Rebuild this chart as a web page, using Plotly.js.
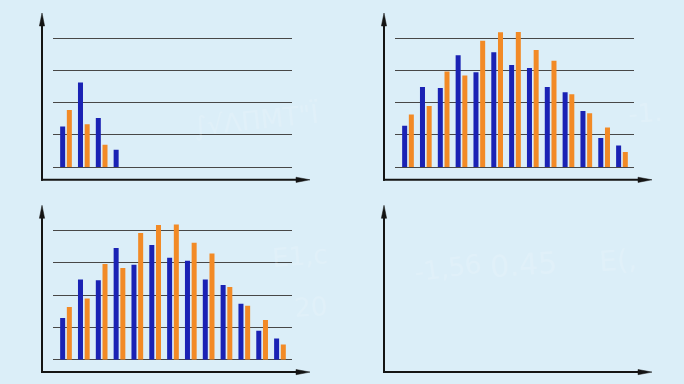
<!DOCTYPE html>
<html>
<head>
<meta charset="utf-8">
<script src="https://cdn.plot.ly/plotly-3.0.1.min.js"></script>
<style>html,body{margin:0;padding:0;background:#dbeef8;}#chart{width:684px;height:384px;}</style>
</head>
<body>
<div id="chart"></div>
<script>
// ---- data ----
var categories = [0, 1, 2, 3, 4, 5, 6, 7, 8, 9, 10, 11, 12];
var tlBlue   = [25.1, 52.6, 30.5, 10.8];
var tlOrange = [35.4, 26.5, 13.9];
var trBlue   = [25.7, 49.7, 49.1, 69.4, 58.9, 71.3, 63.4, 61.6, 49.7, 46.4, 34.8, 18.0, 13.3];
var trOrange = [32.7, 37.9, 59.3, 56.8, 78.5, 83.7, 83.9, 72.7, 66.1, 45.2, 33.4, 24.5, 9.3];
var blBlue   = [25.8, 49.8, 49.2, 69.3, 58.9, 71.1, 63.3, 61.4, 49.8, 46.3, 34.7, 18.0, 13.2];
var blOrange = [32.7, 38.0, 59.3, 56.8, 78.6, 83.5, 83.9, 72.6, 65.9, 45.1, 33.5, 24.6, 9.5];
var gridStep = 20;

var W = 684, H = 384;
var BLUE = '#1a22b4', ORANGE = '#f28a26';
function px(x){ return x / W; }
function py(y){ return 1 - y / H; }

// panel geometry (pixels)
var panels = [
  {ox: 0,   oy: 0,   base: 167,   top: 38.3},
  {ox: 342, oy: 0,   base: 167,   top: 38.3},
  {ox: 0,   oy: 192, base: 167.7, top: 38.7}
];
var gridL = 53.3, gridR = 292.3, plotTop = 24;
var firstCenter = 66, slot = 17.83;

var traces = [];
var layout = {
  width: W, height: H,
  margin: {l: 0, r: 0, t: 0, b: 0},
  paper_bgcolor: '#dbeef8',
  plot_bgcolor: 'rgba(0,0,0,0)',
  showlegend: false,
  barmode: 'group',
  bargap: 0.25,
  bargroupgap: 0.25,
  shapes: [],
  annotations: []
};

var sets = [[tlBlue, tlOrange], [trBlue, trOrange], [blBlue, blOrange]];
panels.forEach(function(p, i){
  var n = i + 1;
  var xa = 'xaxis' + (n === 1 ? '' : n), ya = 'yaxis' + (n === 1 ? '' : n);
  var xr = 'x' + (n === 1 ? '' : n), yr = 'y' + (n === 1 ? '' : n);
  var step = (p.base - p.top) / 4;
  var bottomPx = p.oy + p.base, topPx = p.oy + plotTop;
  layout[xa] = {
    domain: [px(p.ox + gridL), px(p.ox + gridR)],
    range: [(gridL - firstCenter) / slot, (gridR - firstCenter) / slot],
    showgrid: false, zeroline: false, showticklabels: false, ticks: '',
    anchor: yr, fixedrange: true
  };
  layout[ya] = {
    domain: [py(bottomPx), py(topPx)],
    range: [0, (p.base - plotTop) / step * gridStep],
    tick0: 0, dtick: gridStep,
    showgrid: true, gridcolor: '#474747', gridwidth: 1,
    zeroline: true, zerolinecolor: '#474747', zerolinewidth: 1,
    showticklabels: false, ticks: '', anchor: xr, fixedrange: true
  };
  var b = sets[i][0], o = sets[i][1];
  traces.push({type: 'bar', x: categories.slice(0, b.length), y: b, marker: {color: BLUE}, xaxis: xr, yaxis: yr, hoverinfo: 'none'});
  traces.push({type: 'bar', x: categories.slice(0, o.length), y: o, marker: {color: ORANGE}, xaxis: xr, yaxis: yr, hoverinfo: 'none'});
});

// axis arrows for all four panels
[[0,0],[342,0],[0,192.3],[342,192.3]].forEach(function(o){
  var ox = o[0], oy = o[1];
  var ax = ox + 42, ay = oy + 179.8;
  var topTip = oy + 13, rightTip = ox + 310;
  layout.shapes.push({type: 'line', xref: 'paper', yref: 'paper', x0: px(ax), y0: py(ay + 1), x1: px(ax), y1: py(topTip + 10), line: {color: '#141414', width: 2}});
  layout.shapes.push({type: 'line', xref: 'paper', yref: 'paper', x0: px(ax - 1), y0: py(ay), x1: px(rightTip - 10), y1: py(ay), line: {color: '#141414', width: 2}});
  layout.shapes.push({type: 'path', xref: 'paper', yref: 'paper',
    path: 'M ' + px(ax) + ' ' + py(topTip) + ' L ' + px(ax - 2.6) + ' ' + py(topTip + 13) + ' L ' + px(ax + 2.6) + ' ' + py(topTip + 13) + ' Z',
    fillcolor: '#141414', line: {color: '#141414', width: 0.5}});
  layout.shapes.push({type: 'path', xref: 'paper', yref: 'paper',
    path: 'M ' + px(rightTip) + ' ' + py(ay) + ' L ' + px(rightTip - 14) + ' ' + py(ay - 2.6) + ' L ' + px(rightTip - 14) + ' ' + py(ay + 2.6) + ' Z',
    fillcolor: '#141414', line: {color: '#141414', width: 0.5}});
});

// faint background formula text
var bgText = [
  {t: '-1,56', x: 485, y: 290, s: 26, a: -8},
  {t: '0.45', x: 560, y: 286, s: 30, a: -4},
  {t: 'E(,', x: 640, y: 280, s: 28, a: -4},
  {t: '∫√ΛΠΜΤ"Ϊ', x: 190, y: 95, s: 26, a: -6},
  {t: '-1.', x: 665, y: 95, s: 26, a: -4},
  {t: 'E1,c', x: 300, y: 275, s: 26, a: -4},
  {t: '20', x: 310, y: 325, s: 26, a: -4}
];
bgText.forEach(function(b){
  layout.annotations.push({xref: 'paper', yref: 'paper', x: px(b.x), y: py(b.y), text: b.t, showarrow: false,
    textangle: b.a, font: {family: 'DejaVu Sans', size: b.s, color: 'rgba(255,255,255,0.17)'}});
});

Plotly.newPlot('chart', traces, layout, {staticPlot: true, displayModeBar: false});
</script>
</body>
</html>
